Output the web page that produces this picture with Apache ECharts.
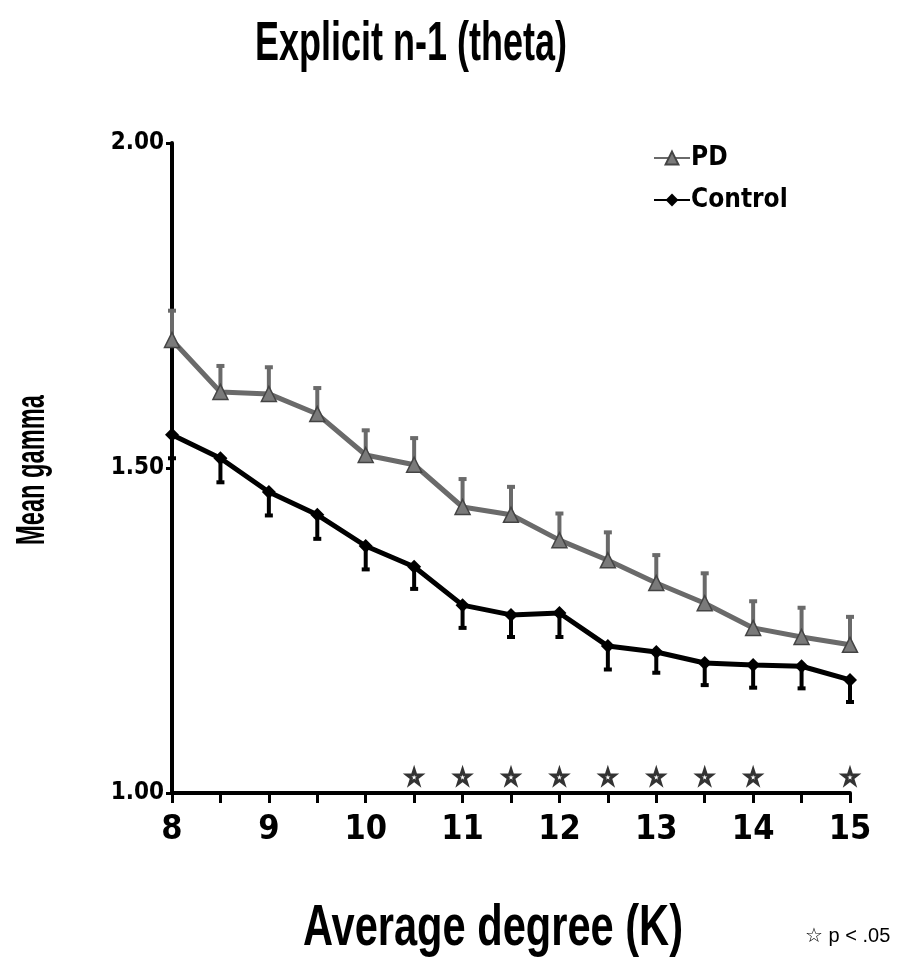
<!DOCTYPE html>
<html><head><meta charset="utf-8">
<script src="https://cdn.jsdelivr.net/npm/echarts@6/dist/echarts.min.js"></script>
<style>html,body{margin:0;padding:0;background:#fff}#c{width:922px;height:972px}</style>
</head><body><div id="c"></div>
<script>
const degrees = [8, 8.5, 9, 9.5, 10, 10.5, 11, 11.5, 12, 12.5, 13, 13.5, 14, 14.5, 15];
const pdMean = [1.697, 1.617, 1.614, 1.583, 1.520, 1.505, 1.440, 1.428, 1.389, 1.358, 1.323, 1.292, 1.254, 1.240, 1.228];
const pdErr  = [0.045, 0.040, 0.041, 0.040, 0.038, 0.041, 0.043, 0.043, 0.041, 0.043, 0.043, 0.046, 0.041, 0.045, 0.043];
const ctrlMean = [1.551, 1.515, 1.463, 1.428, 1.380, 1.348, 1.289, 1.274, 1.277, 1.226, 1.217, 1.200, 1.197, 1.195, 1.174];
const ctrlErr  = [0.036, 0.037, 0.036, 0.037, 0.036, 0.034, 0.035, 0.034, 0.037, 0.036, 0.032, 0.034, 0.035, 0.034, 0.034];
const sigDegrees = [10.5, 11, 11.5, 12, 12.5, 13, 13.5, 14, 15];
const sigLevel = 1.025;
const yTicks = ['1.00', '1.50', '2.00'];
const titleText = 'Explicit n-1 (theta)';
const xName = 'Average degree (K)';
const yName = 'Mean gamma';
const noteText = '\u2606 p < .05';

const FN = '"DejaVu Sans Condensed","Liberation Sans",Arial,sans-serif';
const WIDE = '"Liberation Sans",Arial,sans-serif';
const chart = echarts.init(document.getElementById('c'), null, {renderer: 'canvas'});

const mctx = document.createElement('canvas').getContext('2d');
function fitScale(text, font, target) {
  mctx.font = font;
  return target / mctx.measureText(text).width;
}

function errSeries(mean, err, dir, color) {
  return {
    type: 'custom',
    z: 1,
    silent: true,
    data: degrees.map((d, i) => [d, mean[i], err[i] * dir]),
    renderItem: function (params, api) {
      const x = api.value(0), y = api.value(1), e = api.value(2);
      const p0 = api.coord([x, y]);
      const p1 = api.coord([x, y + e]);
      return {
        type: 'group',
        children: [
          {type: 'line', shape: {x1: p0[0], y1: p0[1], x2: p1[0], y2: p1[1]}, style: {stroke: color, lineWidth: 4}},
          {type: 'line', shape: {x1: p1[0] - 4, y1: p1[1], x2: p1[0] + 4, y2: p1[1]}, style: {stroke: color, lineWidth: 4}}
        ]
      };
    }
  };
}

const starPath = 'path://M50,5 L61,38 L96,38 L68,59 L79,93 L50,72 L21,93 L32,59 L4,38 L39,38 Z';

const titleFont = 'bold 56px ' + WIDE;
const xNameFont = 'bold 58px ' + WIDE;
const yNameFont = 'bold 40px ' + WIDE;

chart.setOption({
  animation: false,
  backgroundColor: '#fff',
  grid: {left: 172, right: 72, top: 143, bottom: 179, containLabel: false},
  legend: {
    orient: 'vertical',
    left: 648, top: 140,
    itemWidth: 36, itemHeight: 16, itemGap: 16,
    textStyle: {fontFamily: FN, fontSize: 26, fontWeight: 'bold', color: '#000', padding: [0, 0, 0, -4]},
    data: ['PD', 'Control']
  },
  xAxis: {
    type: 'value', min: 8, max: 15, interval: 0.5,
    axisLine: {show: true, lineStyle: {color: '#000', width: 4}},
    axisTick: {show: true, length: 10, lineStyle: {color: '#000', width: 3}},
    axisLabel: {
      margin: 20, color: '#000', fontFamily: FN, fontSize: 34, fontWeight: 'bold',
      formatter: v => (Math.abs(v - Math.round(v)) < 1e-6 ? String(Math.round(v)) : '')
    },
    splitLine: {show: false}
  },
  yAxis: {
    type: 'value', min: 1.0, max: 2.0, interval: 0.5,
    axisLine: {show: true, lineStyle: {color: '#000', width: 4}},
    axisTick: {show: true, length: 6, lineStyle: {color: '#000', width: 3}},
    axisLabel: {
      margin: 8, color: '#000', fontFamily: FN, fontSize: 24, fontWeight: 'bold',
      formatter: v => yTicks.find(t => Math.abs(parseFloat(t) - v) < 1e-6) || ''
    },
    splitLine: {show: false}
  },
  graphic: [
    {type: 'text', x: 255, y: 45, scaleX: fitScale(titleText, titleFont, 312),
     style: {text: titleText, font: titleFont, fill: '#000', textAlign: 'left', textVerticalAlign: 'middle'}},
    {type: 'text', x: 303, y: 929, scaleX: fitScale(xName, xNameFont, 380),
     style: {text: xName, font: xNameFont, fill: '#000', textAlign: 'left', textVerticalAlign: 'middle'}},
    {type: 'text', x: 33, y: 470, rotation: Math.PI / 2, scaleX: fitScale(yName, yNameFont, 150),
     style: {text: yName, font: yNameFont, fill: '#000', textAlign: 'center', textVerticalAlign: 'middle'}},
    {type: 'text', x: 805, y: 936,
     style: {text: noteText, font: '20px ' + WIDE, fill: '#000', textAlign: 'left', textVerticalAlign: 'middle'}}
  ],
  series: [
    errSeries(pdMean, pdErr, 1, '#6a6a6a'),
    errSeries(ctrlMean, ctrlErr, -1, '#000'),
    {
      name: 'PD', type: 'line', z: 3,
      data: degrees.map((d, i) => [d, pdMean[i]]),
      symbol: 'triangle', symbolSize: 15,
      lineStyle: {color: '#6a6a6a', width: 5},
      itemStyle: {color: '#7a7a7a', borderColor: '#444', borderWidth: 1.5}
    },
    {
      name: 'Control', type: 'line', z: 4,
      data: degrees.map((d, i) => [d, ctrlMean[i]]),
      symbol: 'diamond', symbolSize: 14,
      lineStyle: {color: '#000', width: 5},
      itemStyle: {color: '#000', borderColor: '#000', borderWidth: 0}
    },
    {
      name: 'sig', type: 'scatter', z: 5,
      data: sigDegrees.map(d => [d, sigLevel]),
      symbol: starPath, symbolSize: 14,
      itemStyle: {color: '#fff', borderColor: '#000', borderWidth: 3}
    }
  ]
});
</script></body></html>
